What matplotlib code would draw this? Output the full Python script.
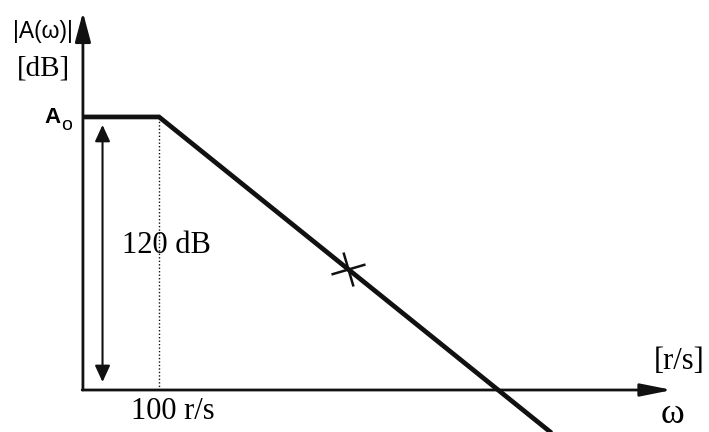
import numpy as np
import matplotlib
matplotlib.use('Agg')
import matplotlib.pyplot as plt
from matplotlib.markers import MarkerStyle
from matplotlib.transforms import Affine2D

# asymptotic Bode magnitude (gain in dB over the w axis)
omega = [4.5, 1e2, 3.16e9]
gain_db = [120, 120, -30]
corner = 1e2
mark_w, mark_db = 2.2e5, 53.2
w_axis0, w_axis1 = 4.5, 1.2e11
db_top = 166
span_w = 10.0
span_db = [116.5, 3.5]

SERIF = 'Liberation Serif'
SANS = 'Liberation Sans'

fig = plt.figure(figsize=(7.09, 4.32), dpi=100)
ax = fig.add_axes([0, 0, 1, 1])
ax.set_xscale('log')
ax.set_xlim(10 ** -0.814, 10 ** 11.73)
ax.set_ylim(-18.46, 171.4)
ax.axis('off')

# axes with arrow heads
yarr = dict(arrowstyle='-|>,head_length=18,head_width=4.8', mutation_scale=1,
            color='#111111', lw=2, shrinkA=0, shrinkB=0)
xarr = dict(arrowstyle='-|>,head_length=19,head_width=3.8', mutation_scale=1,
            color='#111111', lw=2, shrinkA=0, shrinkB=0)
ax.annotate('', xy=(w_axis0, db_top), xytext=(w_axis0, 0), arrowprops=yarr)
ax.annotate('', xy=(w_axis1, 0), xytext=(w_axis0 * 0.97, 0), arrowprops=xarr)

# magnitude curve
ax.plot(omega, gain_db, color='#111111', lw=3.4, solid_capstyle='butt',
        solid_joinstyle='miter', zorder=3)

# corner frequency guide
ax.plot([corner, corner], [0, gain_db[1]], color='#111111', lw=1, ls=(0, (1, 1.5)))

# 120 dB span
darr = dict(arrowstyle='<|-|>,head_length=10,head_width=4.6', mutation_scale=1,
            color='#111111', lw=1.5, shrinkA=0, shrinkB=0)
ax.annotate('', xy=(span_w, span_db[0]), xytext=(span_w, span_db[1]), arrowprops=darr)

# cross marker on the slope
mk = MarkerStyle('x', transform=Affine2D().rotate_deg(-27))
ax.plot([mark_w], [mark_db], marker=mk, ms=18, mew=1.8, color='#111111', zorder=4)


def label(px, py, s, ha='left', **kw):
    # px, py in image pixels from top-left; py is the baseline
    fig.text(px / 709, 1 - py / 432, s, ha=ha, va='baseline', **kw)


label(13, 38, '|A(ω)|', family=SANS, fontsize=16.5)
label(17, 75, '[dB]', family=SERIF, fontsize=21)
label(44, 123, 'A', family=SANS, fontsize=16, fontweight='bold')
label(61, 130, 'o', family=SANS, fontsize=14)
label(122, 253, '120 dB', family=SERIF, fontsize=22)
label(131, 419, '100 r/s', family=SERIF, fontsize=22)
label(654, 369, '[r/s]', family=SERIF, fontsize=22)
label(673, 423, 'ω', ha='center', family=SERIF, fontsize=26)

fig.savefig('out.png', dpi=100)
